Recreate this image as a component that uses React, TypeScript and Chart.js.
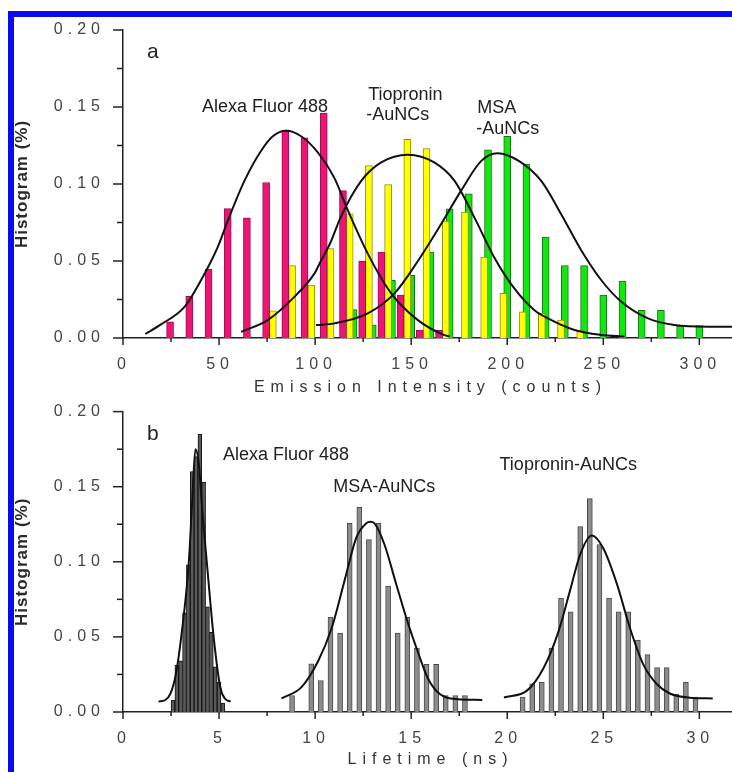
import React, { useEffect, useRef } from "react";
import { Chart, registerables } from "chart.js";

Chart.register(...registerables);

const FONT = "'Liberation Sans', Arial, sans-serif";

// ---------------- Panel a : emission intensity histograms ----------------
const emissionAlexaX = [24.5, 34.5, 44.5, 54.5, 64.5, 74.5, 84.5, 94.5, 104.5, 114.5, 124.5, 134.5, 144.5, 154.5, 164.5];
const emissionAlexaY = [0.0105, 0.027, 0.0446, 0.084, 0.078, 0.101, 0.135, 0.13, 0.146, 0.0957, 0.05, 0.0558, 0.0278, 0.0052, 0.005];

const emissionTioX = [78, 88, 98, 108, 118, 128, 138, 148, 158, 168, 178, 188, 198, 208, 218, 228, 238];
const emissionTioY = [0.0177, 0.047, 0.0343, 0.058, 0.0806, 0.112, 0.0996, 0.129, 0.123, 0.076, 0.0817, 0.0526, 0.029, 0.017, 0.016, 0.0116, 0.005];

const emissionMsaX = [120, 130, 140, 150, 160, 170, 180, 190, 200, 210, 220, 230, 240, 250, 260, 270, 280, 290, 300];
const emissionMsaY = [0.0185, 0.0084, 0.0375, 0.0407, 0.0558, 0.0839, 0.0936, 0.1222, 0.131, 0.113, 0.0655, 0.047, 0.047, 0.0278, 0.037, 0.018, 0.018, 0.008, 0.008];

// fitted curves, panel a
const fitAlexaAX = [11.6, 20, 31.9, 40.6, 49.3, 54.5, 63.2, 71.9, 78, 85, 92.7, 101.4, 110, 117, 127.4, 139.6, 153.5, 167, 170];
const fitAlexaAY = [0.0026, 0.009, 0.02, 0.0375, 0.059, 0.076, 0.102, 0.1216, 0.131, 0.1345, 0.131, 0.1205, 0.104, 0.083, 0.0548, 0.029, 0.0116, 0.002, 0.001];

const fitTioAX = [61.5, 75.3, 89.2, 99.6, 103, 108, 113.5, 124, 134.4, 148.3, 162, 172.6, 183, 193.4, 203.8, 214.2, 221.2, 235, 249, 261];
const fitTioAY = [0.004, 0.0116, 0.0267, 0.0418, 0.05, 0.062, 0.079, 0.102, 0.114, 0.119, 0.114, 0.102, 0.078, 0.052, 0.032, 0.018, 0.0127, 0.0052, 0.002, 0.001];

const fitMsaAX = [100.5, 110, 127.4, 141.3, 153.5, 165.6, 176, 186.5, 195, 206, 217.7, 228, 238.5, 249, 259.4, 273.3, 287, 304.5, 317];
const fitMsaAY = [0.0084, 0.0095, 0.016, 0.029, 0.05, 0.074, 0.0957, 0.115, 0.12, 0.115, 0.102, 0.0806, 0.057, 0.0375, 0.0235, 0.0127, 0.0084, 0.0073, 0.0073];

// ---------------- Panel b : lifetime histograms ----------------
const lifeAlexaX = [2.6, 2.8, 3.0, 3.2, 3.4, 3.6, 3.8, 4.0, 4.2, 4.4, 4.6, 4.8, 5.0, 5.2];
const lifeAlexaY = [0.008, 0.031, 0.034, 0.066, 0.098, 0.16, 0.17, 0.185, 0.153, 0.07, 0.053, 0.03, 0.02, 0.006];

const lifeMsaX = [8.8, 9.8, 10.3, 10.8, 11.3, 11.8, 12.3, 12.8, 13.3, 13.8, 14.3, 14.8, 15.3, 15.8, 16.3, 16.8, 17.3, 17.8];
const lifeMsaY = [0.011, 0.032, 0.021, 0.063, 0.0526, 0.1256, 0.1363, 0.1148, 0.1256, 0.0839, 0.0526, 0.063, 0.0425, 0.0317, 0.0317, 0.011, 0.011, 0.011];

const lifeTioX = [20.8, 21.3, 21.8, 22.3, 22.8, 23.3, 23.8, 24.3, 24.8, 25.3, 25.8, 26.3, 26.8, 27.3, 27.8, 28.3, 28.8, 29.3, 29.8];
const lifeTioY = [0.01, 0.0188, 0.0198, 0.0425, 0.0759, 0.0667, 0.1234, 0.1421, 0.1115, 0.0759, 0.0667, 0.0667, 0.0479, 0.0382, 0.0295, 0.0295, 0.012, 0.0198, 0.01];

const fitAlexaBX = [1.85, 2.2, 2.47, 2.75, 3.04, 3.42, 3.6, 3.77, 3.95, 4.11, 4.37, 4.71, 5.06, 5.3, 5.6];
const fitAlexaBY = [0.007, 0.008, 0.0123, 0.025, 0.051, 0.0986, 0.14, 0.175, 0.165, 0.137, 0.0986, 0.051, 0.0166, 0.009, 0.007];

const fitMsaBX = [8.25, 9.29, 10.16, 10.85, 11.54, 12.14, 12.66, 12.88, 13.09, 13.61, 14.21, 14.82, 15.34, 15.85, 16.37, 17.06, 18.7];
const fitMsaBY = [0.009, 0.0166, 0.034, 0.0554, 0.0878, 0.116, 0.1256, 0.1266, 0.1256, 0.1115, 0.0856, 0.0597, 0.0403, 0.023, 0.0133, 0.009, 0.008];

const fitTioBX = [19.83, 21.04, 21.9, 22.6, 23.28, 23.8, 24.4, 25.0, 25.7, 26.4, 27.08, 27.77, 28.46, 29.5, 30.7];
const fitTioBY = [0.0097, 0.0144, 0.0295, 0.051, 0.0813, 0.105, 0.1175, 0.109, 0.0856, 0.0554, 0.0317, 0.0188, 0.0123, 0.0095, 0.009];

// ---------------- texts ----------------
const panelATitle = "Emission Intensity (counts)";
const panelBTitle = "Lifetime (ns)";
const yTitle = "Histogram (%)";

type Label = { text: string; x: number; y: number; big?: boolean };
const panelALabels: Label[] = [
  { text: "a", x: 12.5, y: 0.182, big: true },
  { text: "Alexa Fluor 488", x: 41.1, y: 0.1468 },
  { text: "Tiopronin", x: 127.6, y: 0.1545 },
  { text: "-AuNCs", x: 126.6, y: 0.1416 },
  { text: "MSA", x: 184.4, y: 0.1461 },
  { text: "-AuNCs", x: 183.9, y: 0.1325 },
];
const panelBLabels: Label[] = [
  { text: "b", x: 1.25, y: 0.1814, big: true },
  { text: "Alexa Fluor 488", x: 5.2, y: 0.1678 },
  { text: "MSA-AuNCs", x: 10.94, y: 0.1465 },
  { text: "Tiopronin-AuNCs", x: 19.6, y: 0.1613 },
];

const pts = (xs: number[], ys: number[]) => xs.map((x, i) => ({ x, y: ys[i] }));

function barSet(xs: number[], ys: number[], fill: string, border: string, thick: number) {
  return {
    type: "bar" as const,
    data: pts(xs, ys),
    backgroundColor: fill,
    borderColor: border,
    borderWidth: 1,
    grouped: false,
    barThickness: thick,
    maxBarThickness: thick,
    order: 2,
  };
}
function lineSet(xs: number[], ys: number[]) {
  return {
    type: "line" as const,
    data: pts(xs, ys),
    borderColor: "#111",
    borderWidth: 2,
    pointRadius: 0,
    tension: 0.4,
    cubicInterpolationMode: "monotone" as const,
    fill: false,
    order: 0,
  };
}

function near(v: number, step: number) {
  const r = v / step;
  return Math.abs(r - Math.round(r)) < 1e-6;
}

function makeDecor(xTitle: string, xTitleY: number, majorX: number, labels: Label[]) {
  return {
    id: "decor",
    beforeDraw(chart: any) {
      chart.ctx.letterSpacing = "5px";
    },
    beforeDatasetsDraw(chart: any) {
      chart.ctx.letterSpacing = "0px";
    },
    afterDraw(chart: any) {
      const ctx = chart.ctx;
      const xs = chart.scales.x;
      const ys = chart.scales.y;
      const area = chart.chartArea;
      ctx.save();
      ctx.letterSpacing = "0px";
      ctx.strokeStyle = "#222";
      ctx.lineWidth = 1.5;
      for (const t of ys.ticks) {
        const major = near(t.value, 0.05);
        const py = ys.getPixelForValue(t.value);
        ctx.beginPath();
        ctx.moveTo(area.left, py);
        ctx.lineTo(area.left - (major ? 10 : 6), py);
        ctx.stroke();
      }
      for (const t of xs.ticks) {
        const major = near(t.value, majorX);
        const px = xs.getPixelForValue(t.value);
        ctx.beginPath();
        ctx.moveTo(px, area.bottom);
        ctx.lineTo(px, area.bottom + (major ? 7 : 4));
        ctx.stroke();
      }
      // x title
      ctx.fillStyle = "#333";
      ctx.font = `16px ${FONT}`;
      ctx.textAlign = "center";
      ctx.textBaseline = "middle";
      ctx.letterSpacing = "6px";
      ctx.fillText(xTitle, (area.left + area.right) / 2 + 3, xTitleY);
      // y title
      ctx.letterSpacing = "1px";
      ctx.font = `bold 17px ${FONT}`;
      ctx.fillStyle = "#2a2a2a";
      ctx.save();
      ctx.translate(22, (area.top + area.bottom) / 2);
      ctx.rotate(-Math.PI / 2);
      ctx.fillText(yTitle, 0, 0);
      ctx.restore();
      // annotations
      ctx.letterSpacing = "0px";
      ctx.textAlign = "left";
      ctx.textBaseline = "alphabetic";
      for (const l of labels) {
        ctx.font = l.big ? `21px ${FONT}` : `18px ${FONT}`;
        ctx.fillStyle = "#222";
        ctx.fillText(l.text, xs.getPixelForValue(l.x), ys.getPixelForValue(l.y));
      }
      ctx.restore();
    },
  };
}

function makeConfig(
  datasets: any[],
  xMax: number,
  xStep: number,
  majorX: number,
  padTop: number,
  xHeight: number,
  xTitle: string,
  xTitleY: number,
  labels: Label[]
): any {
  return {
    type: "bar",
    data: { datasets },
    options: {
      responsive: false,
      animation: false,
      devicePixelRatio: 1,
      layout: { padding: { top: padTop, left: 0, right: 0, bottom: 0 } },
      plugins: { legend: { display: false }, tooltip: { enabled: false } },
      scales: {
        x: {
          type: "linear",
          min: 0,
          max: xMax,
          offset: false,
          grid: { display: false },
          border: { display: true, color: "#222", width: 1.5 },
          ticks: {
            stepSize: xStep,
            includeBounds: false,
            autoSkip: false,
            maxRotation: 0,
            padding: 9,
            labelOffset: 1,
            color: "#444",
            font: { family: FONT, size: 16 },
            callback: (v: any) => (near(Number(v), majorX) ? String(Math.round(Number(v))) : ""),
          },
          afterFit: (s: any) => {
            s.height = xHeight;
          },
        },
        y: {
          type: "linear",
          min: 0,
          max: 0.2,
          grid: { display: false },
          border: { display: true, color: "#222", width: 1.5 },
          ticks: {
            stepSize: 0.025,
            includeBounds: false,
            autoSkip: false,
            padding: 10,
            color: "#444",
            font: { family: FONT, size: 16 },
            callback: (v: any) => (near(Number(v), 0.05) ? Number(v).toFixed(2) : ""),
          },
          afterFit: (s: any) => {
            s.width = 123;
          },
        },
      },
    },
    plugins: [makeDecor(xTitle, xTitleY, majorX, labels)],
  };
}

export default function App() {
  const refA = useRef<HTMLCanvasElement>(null);
  const refB = useRef<HTMLCanvasElement>(null);

  useEffect(() => {
    document.body.style.margin = "0";
    const pink = ["#EC1474", "#9A0F4E"];
    const yellow = ["#FFFF00", "#8E8E10"];
    const green = ["#10E810", "#1E6E1E"];

    const dsA = [
      lineSet(fitAlexaAX, fitAlexaAY),
      lineSet(fitTioAX, fitTioAY),
      lineSet(fitMsaAX, fitMsaAY),
      barSet(emissionAlexaX, emissionAlexaY, pink[0], pink[1], 7),
      barSet(emissionTioX, emissionTioY, yellow[0], yellow[1], 7),
      barSet(emissionMsaX, emissionMsaY, green[0], green[1], 7),
    ];
    const dsB = [
      lineSet(fitAlexaBX, fitAlexaBY),
      lineSet(fitMsaBX, fitMsaBY),
      lineSet(fitTioBX, fitTioBY),
      barSet(lifeAlexaX, lifeAlexaY, "#5a5a5a", "#151515", 3.8),
      barSet(lifeMsaX, lifeMsaY, "#8c8c8c", "#4a4a4a", 5),
      barSet(lifeTioX, lifeTioY, "#8c8c8c", "#4a4a4a", 5),
    ];

    const a = new Chart(
      refA.current as HTMLCanvasElement,
      makeConfig(dsA, 317, 25, 50, 30, 62, panelATitle, 388, panelALabels)
    );
    const b = new Chart(
      refB.current as HTMLCanvasElement,
      makeConfig(dsB, 31.7, 2.5, 5, 11, 60, panelBTitle, 368, panelBLabels)
    );
    return () => {
      a.destroy();
      b.destroy();
    };
  }, []);

  return (
    <div style={{ position: "relative", width: 732, height: 772, background: "#fff", overflow: "hidden" }}>
      <div
        style={{
          position: "absolute",
          left: 8,
          top: 11,
          right: 0,
          bottom: 0,
          borderTop: "6px solid #0a0aef",
          borderLeft: "6px solid #0a0aef",
        }}
      />
      <canvas ref={refA} width={732} height={400} style={{ position: "absolute", left: 0, top: 0 }} />
      <canvas ref={refB} width={732} height={380} style={{ position: "absolute", left: 0, top: 392 }} />
    </div>
  );
}
